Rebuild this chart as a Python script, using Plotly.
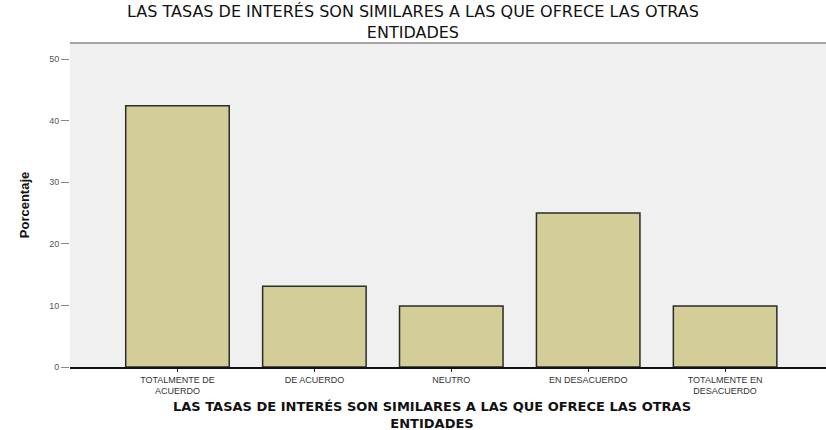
import plotly.graph_objects as go

# Response categories and the percentage of respondents in each
categorias = [
    "TOTALMENTE DE<br>ACUERDO",
    "DE ACUERDO",
    "NEUTRO",
    "EN DESACUERDO",
    "TOTALMENTE EN<br>DESACUERDO",
]
porcentajes = [42.4, 13.1, 9.9, 25.0, 9.9]
ticks_y = [0, 10, 20, 30, 40, 50]

titulo = "LAS TASAS DE INTERÉS SON SIMILARES A LAS QUE OFRECE LAS OTRAS<br>ENTIDADES"

fig = go.Figure(
    go.Bar(
        x=list(range(len(categorias))),
        y=porcentajes,
        width=0.756,
        marker=dict(color="#d3ce97", line=dict(color="#2b2b2b", width=1.5)),
    )
)

anotaciones = [
    # chart title above the plot frame, centred on the page
    dict(
        text=titulo, xref="paper", yref="paper", x=0.4537, y=1,
        xanchor="center", yanchor="bottom", yshift=0, showarrow=False,
        borderpad=0,
        font=dict(family="DejaVu Sans, sans-serif", size=16, color="#111"),
    ),
    # horizontal axis title under the category labels
    dict(
        text=titulo, xref="paper", yref="paper", x=0.479, y=0,
        xanchor="center", yanchor="top", yshift=-31, showarrow=False,
        borderpad=0,
        font=dict(family="DejaVu Sans, sans-serif", size=13, color="#111", weight="bold"),
    ),
]

fig.update_layout(
    width=826,
    height=430,
    margin=dict(l=70, r=0, t=43, b=63),
    paper_bgcolor="white",
    plot_bgcolor="#f0f0f0",
    showlegend=False,
    font=dict(family="Liberation Sans, Arial, sans-serif", color="#222"),
    annotations=anotaciones,
    xaxis=dict(
        range=[-0.785, 4.737],
        tickmode="array",
        tickvals=list(range(len(categorias))),
        ticktext=categorias,
        tickfont=dict(size=9, color="#333"),
        ticks="outside",
        ticklen=3,
        tickcolor="#222",
        showline=True,
        linecolor="#111",
        linewidth=1.5,
        showgrid=False,
        zeroline=False,
    ),
    yaxis=dict(
        range=[0, 52.6],
        tickvals=ticks_y,
        tickfont=dict(size=9, color="#555"),
        ticks="outside",
        ticklen=8,
        tickcolor="#888",
        showline=False,
        showgrid=False,
        zeroline=False,
        title=dict(text="Porcentaje", font=dict(size=13, color="#111", weight="bold"), standoff=16),
    ),
    shapes=[
        dict(
            type="line", xref="paper", yref="paper",
            x0=0, x1=1, y0=1, y1=1,
            line=dict(color="#8a8a8a", width=1.5),
        )
    ],
)

fig.write_html("out.html")
